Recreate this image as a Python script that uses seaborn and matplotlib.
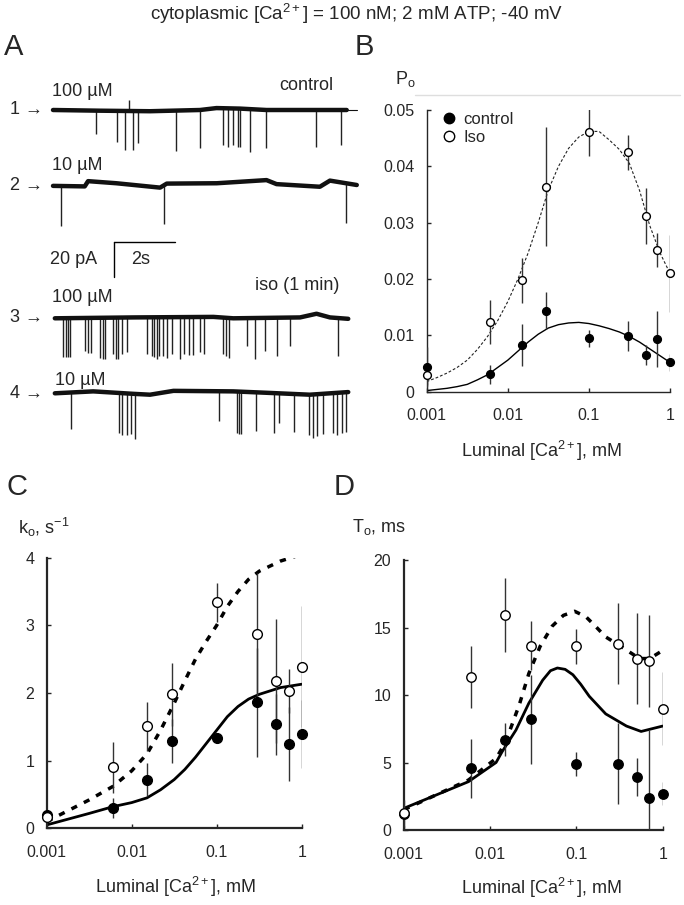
import numpy as np
import matplotlib
matplotlib.use('Agg')
import matplotlib.pyplot as plt
from matplotlib.lines import Line2D
import seaborn as sns

sns.set_style('ticks')
plt.rcParams['font.family'] = ['Liberation Sans', 'DejaVu Sans']
plt.rcParams['mathtext.fontset'] = 'custom'
plt.rcParams['mathtext.rm'] = 'Liberation Sans'
plt.rcParams['mathtext.it'] = 'Liberation Sans:italic'
plt.rcParams['axes.unicode_minus'] = False

W, H = 684, 905

# ---- data: luminal Ca2+ (mM) ----
ca = [0.001, 0.006, 0.015, 0.03, 0.1, 0.3, 0.5, 0.7, 1.0]

# B: open probability
po_ctrl = [0.0044, 0.0031, 0.0083, 0.0144, 0.0095, 0.0099, 0.0065, 0.0094, 0.0052]
po_ctrl_err = [0.0036, 0.0017, 0.0037, 0.0033, 0.0015, 0.0027, 0.0018, 0.0050, 0.0015]
po_iso = [0.0030, 0.0124, 0.0198, 0.0364, 0.0461, 0.0425, 0.0312, 0.0252, 0.0210]
po_iso_err = [0.0018, 0.0039, 0.0040, 0.0106, 0.0043, 0.0031, 0.0050, 0.0030, 0.0068]

# C: opening rate k_o (1/s)
ko_ctrl = [0.20, 0.30, 0.72, 1.29, 1.34, 1.86, 1.54, 1.25, 1.39]
ko_ctrl_err = [0.0, 0.15, 0.24, 0.33, 0.05, 0.80, 0.45, 0.55, 0.50]
ko_iso = [0.17, 0.90, 1.51, 1.98, 3.34, 2.87, 2.18, 2.03, 2.39]
ko_iso_err = [0.0, 0.38, 0.36, 0.47, 0.29, 0.90, 0.92, 0.33, 0.89]

# D: mean open time T_o (ms)
to_ctrl = [1.2, 4.57, 6.7, 8.2, 4.9, 4.9, 3.9, 2.4, 2.7]
to_ctrl_err = [0.0, 2.2, 1.25, 3.3, 0.9, 3.0, 1.4, 5.0, 0.85]
to_iso = [1.23, 11.36, 15.9, 13.65, 13.6, 13.8, 12.7, 12.5, 9.0]
to_iso_err = [1.0, 2.3, 2.75, 1.8, 1.3, 3.0, 3.4, 3.4, 2.7]

# fitted / model curves (log10 of luminal Ca, value)
fit_b_logx = [-3.0, -2.875, -2.75, -2.625, -2.5, -2.375, -2.25, -2.125, -2.0, -1.875, -1.75, -1.625,
              -1.5, -1.375, -1.25, -1.125, -1.0, -0.875, -0.75, -0.625, -0.5, -0.375, -0.25, -0.125, 0.0]
fit_b_ctrl = [0.0002, 0.0004, 0.0006, 0.0009, 0.0013, 0.0021, 0.0030, 0.0043, 0.0056, 0.0072, 0.0088, 0.0102,
              0.0113, 0.0119, 0.0122, 0.0123, 0.0121, 0.0117, 0.0112, 0.0106, 0.0098, 0.0088, 0.0076, 0.0064, 0.0052]
fit_b_iso = [0.0018, 0.0025, 0.0033, 0.0043, 0.0056, 0.0075, 0.0098, 0.0126, 0.0160, 0.0200, 0.0246, 0.0300,
             0.0358, 0.0400, 0.0432, 0.0452, 0.0462, 0.0462, 0.0447, 0.0430, 0.0405, 0.0357, 0.0295, 0.0247, 0.0210]

model_c_logx = [-3.0, -2.5, -2.22, -2.0, -1.82, -1.66, -1.5, -1.375, -1.25, -1.125, -1.0, -0.875, -0.75,
                -0.625, -0.5, -0.25, 0.0]
model_c_ctrl = [0.05, 0.22, 0.32, 0.38, 0.45, 0.57, 0.72, 0.87, 1.05, 1.25, 1.45, 1.65, 1.80,
                1.91, 1.98, 2.08, 2.13]
model_c_iso = [0.10, 0.42, 0.62, 0.85, 1.10, 1.45, 1.85, 2.18, 2.50, 2.76, 3.00, 3.28, 3.50,
               3.68, 3.80, 3.95, 4.05]

model_d_ctrl_logx = [-3.0, -2.25, -1.93, -1.86, -1.7, -1.55, -1.39, -1.3, -1.22, -1.13, -1.04, -0.95, -0.85,
                     -0.66, -0.42, -0.25, 0.0]
model_d_ctrl = [1.6, 3.58, 5.0, 5.8, 7.4, 9.4, 11.1, 11.8, 12.0, 11.9, 11.5, 10.8, 9.9,
                8.6, 7.7, 7.3, 7.7]
model_d_iso_logx = [-3.0, -2.25, -1.93, -1.82, -1.66, -1.55, -1.42, -1.28, -1.15, -1.02, -0.89, -0.78,
                    -0.66, -0.46, -0.27, -0.15, 0.0]
model_d_iso = [1.5, 3.7, 5.3, 6.5, 9.3, 11.6, 13.6, 15.1, 15.9, 16.2, 15.8, 15.1,
               14.3, 13.5, 12.7, 12.7, 13.3]

# A: single-channel traces (time s, current pA)
base1_t = [0.0, 1.54, 3.18, 4.82, 5.36, 6.13, 7.0, 8.1, 9.63]
base1_i = [0.0, -0.4, -0.7, 0.0, 1.1, 0.8, 0.0, 0.0, 0.0]
open1_t = [1.41, 2.11, 2.36, 2.50, 2.61, 2.80, 4.02, 4.82, 5.58, 5.73, 5.91, 6.08, 6.13, 6.46, 6.97, 8.62, 9.45]
open1_a = [13.3, 18, 22.5, -6.5, 22, 18, 23, 22, 21, 22, 21, 22, 22, 24.4, 22, 21, 20]

base2_t = [0.0, 1.04, 1.15, 2.08, 3.51, 3.73, 5.37, 7.0, 7.33, 8.75, 9.08, 9.96]
base2_i = [-0.5, -0.8, 2.2, 1.0, -1.5, 0.8, 1.0, 2.8, 0.5, -1.0, 2.5, 0.0]
open2_t = [0.26, 3.64, 9.60]
open2_a = [22.9, 21.9, 22.9]

base3_t = [0.06, 2.63, 5.26, 5.91, 8.1, 8.64, 9.08, 9.68]
base3_i = [0.0, 0.5, 0.8, 0.0, 0.5, 2.6, 0.5, -0.3]
open3_t = [0.34, 0.42, 0.48, 0.56, 1.05, 1.14, 1.24, 1.54, 1.63, 1.70, 1.98, 2.07, 2.14,
           2.25, 2.42, 3.07, 3.24, 3.32, 3.40, 3.49, 3.62, 3.73, 3.89, 4.16, 4.30, 4.47,
           4.60, 4.82, 4.95, 5.58, 5.67, 5.78, 6.35, 6.62, 6.95, 7.33, 7.77, 9.33]
open3_a = [21.9, 22.3, 22.3, 22.3, 19, 20, 20, 22.9, 23.4, 23.4, 21, 23.8, 23.8,
           21, 20, 21, 21.9, 22.9, 23.8, 21.9, 21.9, 23.4, 21, 23.8, 21, 21.9,
           21.5, 20, 21, 21, 21.9, 22.9, 16.2, 23.4, 19, 21.9, 16.2, 21.9]

base4_t = [0.06, 1.32, 2.63, 3.18, 3.95, 5.91, 7.0, 8.42, 9.68]
base4_i = [0.0, 1.1, -0.3, -0.8, 1.4, 1.1, 0.3, -0.8, 0.7]
open4_t = [0.59, 2.16, 2.25, 2.42, 2.55, 2.69, 5.44, 6.04, 6.11, 6.15, 6.66, 7.26, 7.42,
           7.90, 8.40, 8.53, 8.67, 8.84, 9.19, 9.30, 9.47, 9.60]
open4_a = [21, 22.9, 23.8, 23.8, 22.9, 25.7, 17.1, 23.8, 24.4, 24.4, 21.9, 22.9, 17.1,
           21.9, 22.9, 24.8, 23.8, 22.9, 22.9, 23.8, 22.9, 22.9]

# ---- layout helpers (pixel coordinates) ----
fig = plt.figure(figsize=(W / 100, H / 100), dpi=100)


def fx(x):
    return x / W


def fy(y):
    return 1 - y / H


def axes_px(left, top, right, bottom):
    return fig.add_axes([left / W, 1 - bottom / H, (right - left) / W, (bottom - top) / H])


def label(x, y, s, size=13, ha='left', va='center', **kw):
    fig.text(fx(x), fy(y), s, fontsize=size, ha=ha, va=va, **kw)


CA_LABEL = r'Luminal [Ca$^{\mathrm{2+}}$], mM'

# ---- title and panel letters ----
label(357, 14, r'cytoplasmic [Ca$^{\mathrm{2+}}$] = 100 nM; 2 mM ATP; -40 mV', size=13.5, ha='center')
for letter, x, y in [('A', 4, 47), ('B', 355, 47), ('C', 7, 487), ('D', 334, 487)]:
    label(x, y, letter, size=21)

# ---- A: traces ----
PX_S, PX_PA = 30.5, 1.75
ax_a = axes_px(0, 40, 360, 440)
ax_a.set_xlim(-53 / PX_S, (360 - 53) / PX_S)
ax_a.set_ylim(-440 / PX_PA, -40 / PX_PA)
ax_a.axis('off')

trace_levels = [-110 / PX_PA, -185 / PX_PA, -318.3 / PX_PA, -393.3 / PX_PA]
traces = [(base1_t, base1_i, open1_t, open1_a),
          (base2_t, base2_i, open2_t, open2_a),
          (base3_t, base3_i, open3_t, open3_a),
          (base4_t, base4_i, open4_t, open4_a)]
for level, (bt, bi, et, ea) in zip(trace_levels, traces):
    yb = level + np.array(bi)
    ev = level + np.interp(et, bt, bi)
    ax_a.vlines(et, ev, ev - np.array(ea), color='#222222', lw=1.0)
    sns.lineplot(x=bt, y=yb, ax=ax_a, color='#111111', lw=3.2, errorbar=None)
ax_a.plot([9.63, 9.96], [trace_levels[0], trace_levels[0]], color='#111111', lw=0.8)

# scale bar: 20 pA, 2 s
sb_t, sb_i = 2.01, -241.7 / PX_PA
ax_a.plot([sb_t, sb_t], [sb_i, sb_i - 20], color='black', lw=1.0)
ax_a.plot([sb_t, sb_t + 2], [sb_i, sb_i], color='black', lw=1.0)
label(50, 260, '20 pA')
label(131, 260, '2s')

for num, y in zip(['1', '2', '3', '4'], [110, 185, 318, 393]):
    label(43, y, num + ' \u2192', ha='right')
label(52, 91, '100 \u00b5M')
label(52, 165, '10 \u00b5M')
label(52, 297, '100 \u00b5M')
label(55, 380, '10 \u00b5M')
label(279, 85, 'control')
label(255, 286, 'iso (1 min)')


# ---- helper for B, C, D ----
def dose_panel(ax, yc, yce, yi, yie, ms, ylim, yticks, yticklabels, spine_w):
    ax.set_xscale('log')
    ax.errorbar(ca, yc, yerr=yce, fmt='none', ecolor='#333333', elinewidth=1.0, capsize=0, zorder=3)
    ax.errorbar(ca, yi, yerr=yie, fmt='none', ecolor='#333333', elinewidth=1.0, capsize=0, zorder=3)
    sns.scatterplot(x=ca, y=yc, ax=ax, color='black', edgecolor='black', s=ms ** 2,
                    linewidth=1.0, zorder=4, clip_on=False)
    sns.scatterplot(x=ca, y=yi, ax=ax, color='white', edgecolor='black', s=ms ** 2,
                    linewidth=1.0, zorder=5, clip_on=False)
    ax.set_xlim(0.001, 1)
    ax.set_ylim(*ylim)
    ax.set_xticks([0.001, 0.01, 0.1, 1])
    ax.set_xticklabels(['0.001', '0.01', '0.1', '1'])
    ax.minorticks_off()
    ax.set_yticks(yticks)
    ax.set_yticklabels(yticklabels)
    ax.tick_params(axis='both', direction='in', length=3, width=1, labelsize=11.5)
    ax.tick_params(axis='x', pad=12)
    ax.tick_params(axis='y', pad=9)
    for side in ['top', 'right']:
        ax.spines[side].set_visible(False)
    for side in ['left', 'bottom']:
        ax.spines[side].set_linewidth(spine_w)
    ax.set_xlabel('')
    ax.set_ylabel('')


# ---- B: Po ----
ax_b = axes_px(426.7, 110, 670, 391.7)
ax_b.set_xscale('log')
sns.lineplot(x=10 ** np.array(fit_b_logx), y=fit_b_ctrl, ax=ax_b, color='black', lw=1.0, errorbar=None)
sns.lineplot(x=10 ** np.array(fit_b_logx), y=fit_b_iso, ax=ax_b, color='#222222', lw=0.8,
             linestyle=(0, (2.5, 1.8)), errorbar=None)
dose_panel(ax_b, po_ctrl, po_ctrl_err, po_iso, po_iso_err, 5.6, (0, 0.05),
           [0, 0.01, 0.02, 0.03, 0.04, 0.05], ['0', '0.01', '0.02', '0.03', '0.04', '0.05'], 1.0)
handles = [Line2D([], [], marker='o', ls='none', mfc='black', mec='black', ms=7.5),
           Line2D([], [], marker='o', ls='none', mfc='white', mec='black', ms=7.5)]
ax_b.legend(handles, ['control', 'Iso'], loc='upper left', bbox_to_anchor=(fx(442), fy(112)),
            bbox_transform=fig.transFigure, frameon=False, fontsize=12, handlelength=0.8,
            handletextpad=0.5, labelspacing=0.15, borderpad=0, borderaxespad=0)
label(395, 79, r'P$_{\mathrm{o}}$')
label(541, 451, CA_LABEL, ha='center')
fig.add_artist(Line2D([fx(415), fx(680)], [fy(95), fy(95)], color='#dedede', lw=1.0))

# ---- C: ko ----
ax_c = axes_px(46.7, 557.7, 301.7, 828.3)
ax_c.set_xscale('log')
sns.lineplot(x=10 ** np.array(model_c_logx), y=model_c_ctrl, ax=ax_c, color='black', lw=2.0, errorbar=None)
sns.lineplot(x=10 ** np.array(model_c_logx), y=model_c_iso, ax=ax_c, color='black', lw=2.5,
             linestyle=(0, (1.8, 2.2)), errorbar=None)
dose_panel(ax_c, ko_ctrl, ko_ctrl_err, ko_iso, ko_iso_err, 7.0, (0, 4),
           [0, 1, 2, 3, 4], ['0', '1', '2', '3', '4'], 1.6)
label(18, 527, r'k$_{\mathrm{o}}$, s$^{\mathrm{-1}}$')
label(175, 887, CA_LABEL, ha='center')

# ---- D: To ----
ax_d = axes_px(403.7, 560, 662.7, 830)
ax_d.set_xscale('log')
sns.lineplot(x=10 ** np.array(model_d_ctrl_logx), y=model_d_ctrl, ax=ax_d, color='black', lw=2.0, errorbar=None)
sns.lineplot(x=10 ** np.array(model_d_iso_logx), y=model_d_iso, ax=ax_d, color='black', lw=2.5,
             linestyle=(0, (1.8, 2.2)), errorbar=None)
dose_panel(ax_d, to_ctrl, to_ctrl_err, to_iso, to_iso_err, 6.8, (0, 20),
           [0, 5, 10, 15, 20], ['0', '5', '10', '15', '20'], 1.6)
label(352, 527, r'T$_{\mathrm{o}}$, ms')
label(541, 888, CA_LABEL, ha='center')

fig.savefig('out.png', dpi=100)
